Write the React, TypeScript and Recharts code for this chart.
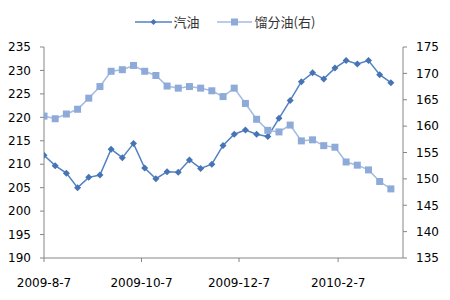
import React from 'react'
import { LineChart, Line, XAxis, YAxis, Legend } from 'recharts'

// weekly observations
const dates = [
  '2009-08-07', '2009-08-14', '2009-08-21', '2009-08-28',
  '2009-09-04', '2009-09-11', '2009-09-18', '2009-09-25',
  '2009-10-02', '2009-10-09', '2009-10-16', '2009-10-23', '2009-10-30',
  '2009-11-06', '2009-11-13', '2009-11-20', '2009-11-27',
  '2009-12-04', '2009-12-11', '2009-12-18', '2009-12-25',
  '2010-01-01', '2010-01-08', '2010-01-15', '2010-01-22', '2010-01-29',
  '2010-02-05', '2010-02-12', '2010-02-19', '2010-02-26',
  '2010-03-05', '2010-03-12'
]

const gasoline = [
  211.9, 209.7, 208.1, 205.0, 207.2, 207.7, 213.2, 211.4,
  214.4, 209.2, 206.9, 208.4, 208.3, 210.9, 209.1, 210.0,
  214.0, 216.4, 217.3, 216.4, 215.9, 219.8, 223.6, 227.6,
  229.5, 228.2, 230.5, 232.1, 231.4, 232.1, 229.1, 227.4
]

const distillate = [
  161.9, 161.4, 162.3, 163.2, 165.3, 167.5, 170.4, 170.7,
  171.5, 170.4, 169.6, 167.6, 167.2, 167.5, 167.2, 166.7,
  165.6, 167.2, 164.3, 161.3, 159.2, 158.9, 160.2, 157.2,
  157.4, 156.3, 156.0, 153.2, 152.6, 151.7, 149.5, 148.1
]

const tickDates = ['2009-08-07', '2009-10-07', '2009-12-07', '2010-02-07']
const leftTicks = [190, 195, 200, 205, 210, 215, 220, 225, 230, 235]
const rightTicks = [135, 140, 145, 150, 155, 160, 165, 170, 175]

const toTs = (s: string) => Date.parse(s + 'T00:00:00Z')
const fmtDate = (ts: number) => {
  const d = new Date(ts)
  return `${d.getUTCFullYear()}-${d.getUTCMonth() + 1}-${d.getUTCDate()}`
}

const data = dates.map((d, i) => ({
  ts: toTs(d),
  gasoline: gasoline[i],
  distillate: distillate[i]
}))

const DARK = '#4674b4'
const DARK_LINE = '#5282c2'
const LIGHT = '#8eaad9'
const LIGHT_LINE = '#a3bbe2'
const AXIS = '#868686'
const tickStyle = { fill: '#000', fontSize: 12, fontFamily: '"DejaVu Sans", Verdana, sans-serif' }

const Diamond = (p: any) => {
  const { cx, cy, index } = p
  if (cx == null || cy == null) return <g key={`g-${index}`} />
  return <path key={`g-${index}`} d={`M${cx},${cy - 3.5}L${cx + 3.5},${cy}L${cx},${cy + 3.5}L${cx - 3.5},${cy}Z`} fill={DARK} />
}

const Square = (p: any) => {
  const { cx, cy, index } = p
  if (cx == null || cy == null) return <g key={`s-${index}`} />
  return <rect key={`s-${index}`} x={cx - 3.5} y={cy - 3.5} width={7} height={7} fill={LIGHT} />
}

function LegendBox() {
  const text = { fontSize: 13, color: '#333', fontFamily: '"Noto Sans CJK SC", sans-serif', lineHeight: '20px' }
  return (
    <div style={{ height: 35, display: 'flex', justifyContent: 'center', alignItems: 'flex-start' }}>
      <div style={{ display: 'flex', alignItems: 'center', height: 20 }}>
        <svg width={37} height={10}>
          <line x1={0} y1={5} x2={37} y2={5} stroke={DARK_LINE} strokeWidth={1.5} />
          <path d="M18.5,2L21.5,5L18.5,8L15.5,5Z" fill={DARK} />
        </svg>
        <span style={{ ...text, marginLeft: 2 }}>汽油</span>
        <svg width={35} height={10} style={{ marginLeft: 17 }}>
          <line x1={0} y1={5} x2={35} y2={5} stroke={LIGHT_LINE} strokeWidth={1.5} />
          <rect x={14} y={1.5} width={7} height={7} fill={LIGHT} />
        </svg>
        <span style={{ ...text, marginLeft: 3 }}>馏分油(右)</span>
      </div>
    </div>
  )
}

export default function App() {
  return (
    <div style={{ position: 'absolute', left: 0, top: 0, width: 450, height: 300, background: '#fff' }}>
      <LineChart width={450} height={300} data={data} margin={{ top: 12, right: 0, bottom: 0, left: 0 }}>
        <Legend verticalAlign="top" align="center" content={() => <LegendBox />} />
        <XAxis
          dataKey="ts"
          type="number"
          domain={[toTs('2009-08-07'), toTs('2010-03-19') + 14 * 3600 * 1000]}
          allowDataOverflow
          ticks={tickDates.map(toTs)}
          tickFormatter={fmtDate}
          tick={tickStyle}
          tickSize={4}
          tickMargin={16}
          height={42}
          axisLine={{ stroke: AXIS }}
          tickLine={{ stroke: AXIS }}
        />
        <YAxis
          yAxisId="left"
          orientation="left"
          domain={[190, 235]}
          ticks={leftTicks}
          interval={0}
          width={44}
          tick={tickStyle}
          tickSize={4}
          tickMargin={9}
          axisLine={{ stroke: AXIS }}
          tickLine={{ stroke: AXIS }}
        />
        <YAxis
          yAxisId="right"
          orientation="right"
          domain={[135, 175]}
          ticks={rightTicks}
          interval={0}
          width={47}
          tick={tickStyle}
          tickSize={4}
          tickMargin={9}
          axisLine={{ stroke: AXIS }}
          tickLine={{ stroke: AXIS }}
        />
        <Line
          yAxisId="left"
          name="汽油"
          dataKey="gasoline"
          type="linear"
          stroke={DARK_LINE}
          strokeWidth={1.5}
          dot={Diamond}
          activeDot={false}
          isAnimationActive={false}
        />
        <Line
          yAxisId="right"
          name="馏分油(右)"
          dataKey="distillate"
          type="linear"
          stroke={LIGHT_LINE}
          strokeWidth={1.5}
          dot={Square}
          activeDot={false}
          isAnimationActive={false}
        />
      </LineChart>
    </div>
  )
}
